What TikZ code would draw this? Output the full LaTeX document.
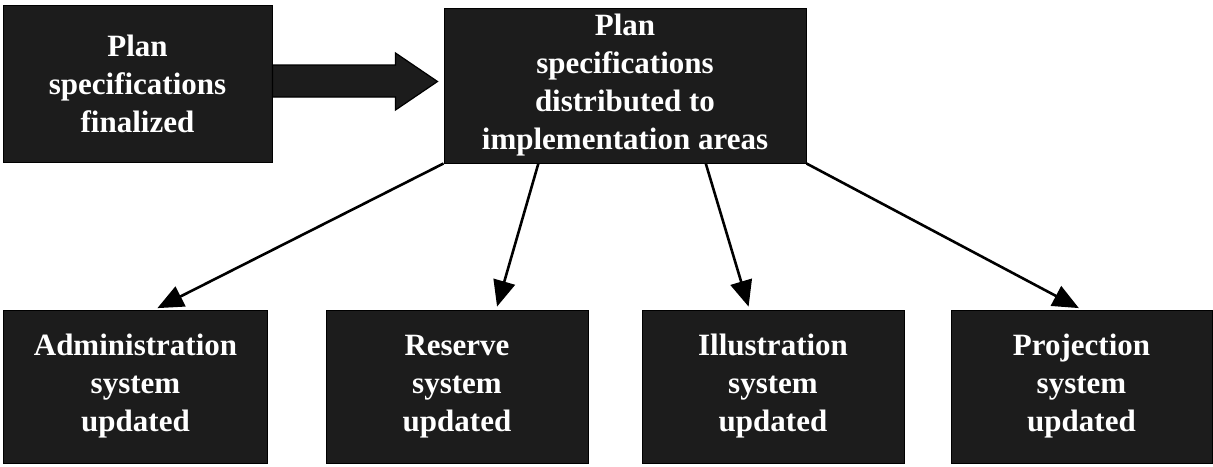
\documentclass[tikz,border=0pt]{standalone}
\usepackage{fontspec}
\setmainfont{Liberation Serif}
\usetikzlibrary{positioning,arrows.meta,calc}

\tikzset{
  stepbox/.style={draw=black, line width=1pt, fill=black!89, text=white,
    inner sep=0pt, align=center,
    font=\fontsize{31}{38}\selectfont\bfseries},
  flowarrow/.style={line width=2.6pt, shorten >=3pt,
    -{Triangle[length=26pt,width=22pt]}},
}

\begin{document}
\begin{tikzpicture}[x=1pt, y=-1pt]
\useasboundingbox (0,0) rectangle (1213,466);
%
    \node[stepbox, minimum width=269pt, minimum height=157pt] (final)
      at (137.5, 83.5) {Plan\\specifications\\finalized};
    \node[stepbox, minimum width=362pt, minimum height=155pt] (distrib)
      at (625, 85.5) {Plan\\specifications\\distributed to\\implementation areas};
%
    \node[stepbox, minimum width=264pt, minimum height=153pt] (admin)
      at (135.5, 386.5) {Administration\\system\\updated};
    \node[stepbox, minimum width=262pt, minimum height=153pt] (reserve)
      at (457, 386.5) {Reserve\\system\\updated};
    \node[stepbox, minimum width=262pt, minimum height=153pt] (illus)
      at (773, 386.5) {Illustration\\system\\updated};
    \node[stepbox, minimum width=261pt, minimum height=153pt] (proj)
      at (1081.5, 386.5) {Projection\\system\\updated};
%
    \draw[line width=1.2pt, fill=black!89] ([yshift=18.5pt]final.east)
      -- ++(123,0) -- ++(0,-12) -- ++(42,28.5) -- ++(-42,28.5)
      -- ++(0,-13) -- ++(-123,0) -- cycle;
%
    \draw[flowarrow] (distrib.south west) -- (admin.76);
    \draw[flowarrow] (distrib.222) -- (reserve.63);
    \draw[flowarrow] (distrib.316) -- (illus.107);
    \draw[flowarrow] (distrib.south east) -- (proj.north);
\end{tikzpicture}
\end{document}
